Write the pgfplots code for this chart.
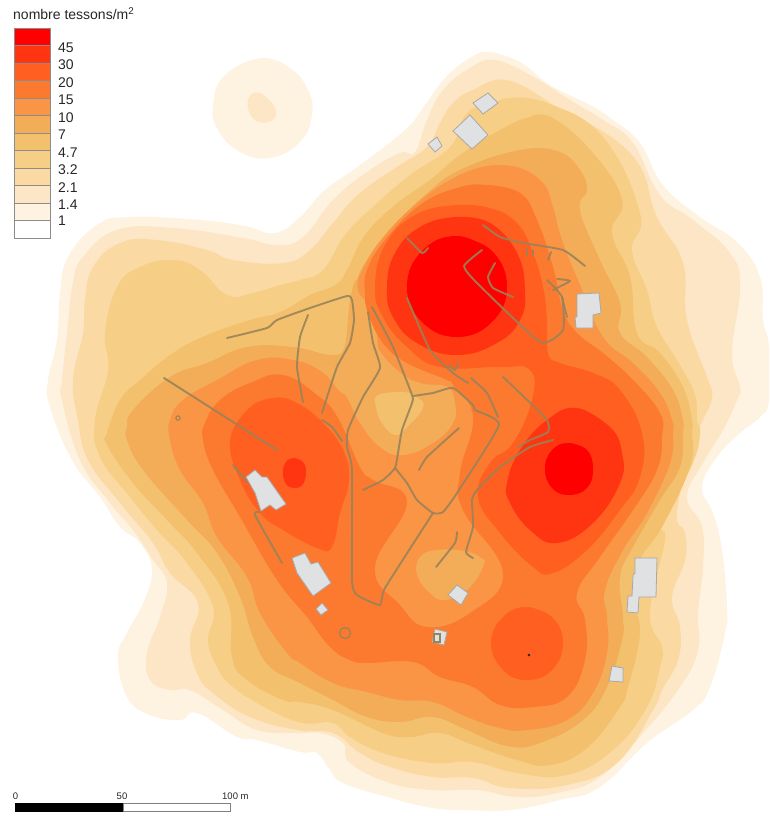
\documentclass[border=0pt]{standalone}
\usepackage{pgfplots}
\pgfplotsset{compat=1.18}
\usepackage{fontspec}
\setmainfont{Liberation Sans}
\definecolor{lva}{HTML}{FEF2E1}
\definecolor{lvb}{HTML}{FDE6C5}
\definecolor{lvc}{HTML}{FAD9A3}
\definecolor{lvd}{HTML}{F7CE85}
\definecolor{lve}{HTML}{F3C16E}
\definecolor{lvf}{HTML}{F3AC58}
\definecolor{lvg}{HTML}{FA9545}
\definecolor{lvh}{HTML}{FC7A30}
\definecolor{lvi}{HTML}{FF5F20}
\definecolor{lvj}{HTML}{FF3511}
\definecolor{lvk}{HTML}{FF0000}
\definecolor{trace}{HTML}{998358}
\definecolor{bati}{HTML}{E0E1E3}
\definecolor{batiedge}{HTML}{A8A8A8}
% filled contour band, coordinates in picture pixels
\newcommand{\zone}[2]{\addplot[fill=#1,draw=none,smooth,tension=0.75] coordinates {#2};}
\newcommand{\trace}[1]{\addplot[trace,opacity=0.9,line width=1.9pt,line join=round,line cap=round,smooth,tension=0.3] coordinates {#1};}
\newcommand{\bati}[1]{\addplot[fill=bati,draw=batiedge,line width=0.8pt] coordinates {#1} -- cycle;}
\newcommand{\key}[3]{\addplot[fill=#1,draw=gray!90,line width=0.8pt] coordinates {(14,#2) (50,#2) (50,#3) (14,#3)} -- cycle;}
\begin{document}
\begin{tikzpicture}
\begin{axis}[
  scale only axis,
  width=769pt,
  height=816pt,
  xmin=0, xmax=769,
  ymin=0, ymax=816,
  y dir=reverse,
  ticks=none,
  axis line style={draw=none},
  clip=true,
  nodes={font=\fontsize{14}{16}\selectfont,inner sep=0pt,text=black!85},
]
% bands, outermost first
\zone{lva}{(490,52)(520,62)(550,85)(590,105)(613,120)(640,143)(663,185)(700,217)(737,242)(760,277)(763,320)(769,347)(769,400)(760,417)(740,433)(717,457)(702,487)(713,513)(722,550)(727,607)(725,633)(710,687)(693,710)(647,743)(600,787)(560,800)(510,810)(467,810)(433,808)(387,797)(343,783)(330,770)(317,753)(300,752)(257,740)(237,737)(197,713)(180,720)(150,715)(127,697)(118,657)(127,633)(143,603)(152,570)(140,543)(120,527)(100,497)(72,460)(50,407)(48,380)(57,340)(60,293)(68,257)(97,225)(130,217)(200,220)(245,226)(275,233)(300,217)(325,190)(360,165)(405,130)(425,105)(445,78)(470,58)(490,52)(520,62)}
\zone{lva}{(262,58)(290,68)(308,90)(312,115)(300,142)(270,158)(240,152)(218,130)(213,105)(225,75)(262,58)(290,68)}
\zone{lvb}{(260,93)(272,103)(276,115)(268,122)(255,120)(248,108)(250,96)(260,93)(272,103)}
\zone{lvb}{(495,60)(530,75)(570,100)(603,120)(633,143)(660,195)(693,220)(730,253)(740,287)(732,353)(740,387)(737,400)(723,430)(703,463)(687,497)(702,527)(703,567)(698,613)(698,650)(680,687)(643,733)(600,777)(557,793)(517,797)(477,790)(433,790)(390,783)(350,763)(343,743)(320,733)(297,733)(257,730)(223,710)(190,690)(170,690)(150,680)(147,653)(160,617)(167,583)(153,560)(133,530)(110,503)(80,460)(62,400)(62,380)(67,333)(73,283)(83,257)(117,230)(173,228)(243,238)(277,245)(303,237)(333,200)(367,172)(400,153)(415,152)(427,120)(443,90)(470,68)(495,60)(530,75)}
\zone{lvc}{(507,80)(550,103)(630,153)(657,217)(683,263)(687,320)(707,377)(712,397)(703,420)(693,443)(677,512)(685,533)(685,560)(672,597)(680,627)(678,660)(662,690)(653,710)(617,763)(567,785)(510,788)(473,778)(433,777)(390,767)(360,753)(333,733)(297,730)(250,717)(213,693)(197,673)(190,640)(198,603)(170,573)(153,543)(120,503)(88,460)(78,420)(73,380)(83,333)(85,300)(93,267)(120,243)(157,240)(207,250)(233,260)(283,263)(310,250)(333,223)(360,193)(400,165)(427,147)(440,123)(453,103)(473,90)(507,80)(550,103)}
\zone{lvd}{(510,98)(547,103)(603,137)(640,213)(632,250)(647,290)(657,327)(680,365)(695,395)(697,420)(700,433)(692,465)(662,523)(665,540)(650,613)(662,647)(660,667)(647,707)(613,750)(567,775)(517,773)(473,762)(433,763)(383,753)(350,737)(333,723)(303,723)(270,710)(233,687)(217,667)(208,640)(213,607)(187,563)(157,530)(130,497)(100,457)(95,420)(108,370)(105,333)(117,287)(140,267)(173,260)(200,270)(227,295)(253,293)(280,285)(300,280)(323,270)(345,235)(375,205)(410,175)(450,147)(467,113)(490,105)(510,98)(547,103)}
\zone{lve}{(530,117)(553,118)(593,153)(622,200)(612,233)(630,277)(637,333)(660,353)(683,387)(692,420)(692,433)(690,467)(662,527)(640,560)(633,597)(640,633)(628,687)(620,707)(587,748)(550,765)(517,760)(473,745)(440,733)(410,737)(383,733)(333,710)(300,702)(283,700)(247,680)(232,657)(228,603)(197,553)(167,520)(133,483)(107,445)(107,433)(120,400)(140,380)(173,353)(207,335)(250,320)(280,312)(310,295)(335,285)(347,270)(365,235)(395,205)(430,180)(460,155)(500,130)(530,117)(553,118)}
\zone{lvf}{(560,152)(580,170)(587,190)(580,210)(600,260)(620,303)(620,333)(647,357)(673,390)(683,420)(683,433)(680,467)(660,500)(633,547)(620,577)(623,617)(622,640)(607,687)(583,720)(540,743)(507,746)(467,730)(433,717)(400,722)(367,717)(333,700)(300,683)(270,667)(253,637)(240,597)(217,553)(187,520)(143,470)(127,440)(127,427)(133,410)(170,377)(207,363)(247,347)(293,347)(333,355)(347,345)(353,320)(353,300)(355,285)(368,258)(395,225)(425,195)(460,170)(520,150)(560,152)(580,170)}
\zone{lvg}{(487,166)(517,167)(543,183)(553,207)(562,240)(580,285)(603,337)(633,363)(660,393)(672,420)(673,433)(670,463)(647,513)(623,550)(605,590)(607,617)(607,653)(593,693)(567,720)(527,730)(500,728)(467,717)(433,702)(400,700)(367,692)(333,683)(300,663)(287,653)(260,613)(247,577)(217,537)(203,503)(180,470)(170,440)(170,420)(183,400)(217,380)(257,360)(293,360)(322,372)(345,395)(375,400)(375,320)(358,290)(365,265)(385,235)(415,205)(450,180)(487,166)(517,167)}
\zone{lvh}{(487,185)(520,193)(537,220)(553,267)(563,310)(577,333)(603,353)(633,380)(660,413)(662,437)(657,470)(633,510)(600,557)(577,593)(585,620)(585,660)(567,697)(533,707)(500,705)(473,687)(440,677)(413,662)(367,663)(350,660)(330,647)(307,617)(277,580)(240,517)(213,470)(203,440)(205,423)(220,400)(250,383)(283,375)(317,395)(338,418)(360,467)(373,480)(407,502)(375,567)(400,605)(427,627)(470,613)(503,573)(463,510)(460,473)(473,417)(453,385)(447,380)(407,363)(383,343)(368,313)(365,293)(367,270)(385,240)(420,205)(457,188)(487,185)(520,193)}
% pale pockets in the centre
\zone{lvf}{(340,383)(350,403)(360,423)(380,447)(403,455)(433,443)(453,423)(455,403)(447,387)(420,383)(397,370)(377,347)(358,313)(357,280)(350,300)(345,345)(335,362)(340,383)(350,403)}
\zone{lve}{(378,395)(403,392)(418,398)(423,408)(407,427)(395,435)(382,423)(376,407)(378,395)(403,392)}
\zone{lvf}{(417,563)(427,552)(457,550)(480,557)(483,567)(467,590)(443,600)(427,590)(418,577)(417,563)(427,552)}
% stronger cores
\zone{lvi}{(457,205)(490,208)(517,223)(533,253)(543,287)(547,320)(548,353)(560,363)(593,373)(620,390)(642,433)(640,477)(620,510)(587,550)(553,573)(533,567)(500,533)(478,497)(490,463)(513,443)(532,400)(530,370)(500,367)(440,367)(407,347)(383,317)(375,287)(385,245)(415,215)(457,205)(490,208)}
\zone{lvi}{(527,607)(552,617)(563,643)(552,670)(527,680)(503,670)(491,643)(503,617)(527,607)(552,617)}
\zone{lvi}{(230,440)(247,410)(273,398)(297,403)(323,423)(343,450)(349,480)(340,513)(332,547)(317,548)(283,530)(260,513)(240,480)(230,440)(247,410)}
\zone{lvj}{(294,458)(303,462)(306,472)(303,484)(295,488)(286,484)(283,472)(286,462)(294,458)(303,462)}
\zone{lvj}{(577,408)(610,427)(622,453)(620,483)(593,523)(557,543)(530,530)(510,503)(507,483)(520,450)(547,420)(577,408)(610,427)}
\zone{lvj}{(457,217)(490,223)(517,253)(525,290)(520,320)(497,343)(457,355)(417,343)(393,317)(387,287)(395,253)(420,227)(457,217)(490,223)}
\zone{lvk}{(569,443)(587,450)(593,469)(587,488)(569,495)(552,488)(545,469)(552,450)(569,443)(587,450)}
\zone{lvk}{(457,236)(492,251)(507,287)(492,322)(457,337)(422,322)(407,287)(422,251)(457,236)(492,251)}
% traces
\trace{(227,338)(267,328)(277,320)(310,308)(347,296)(352,300)(354,320)(350,343)(337,367)(322,413)}
\trace{(308,315)(300,337)(297,367)(303,402)}
\trace{(164,378)(277,450)}
\trace{(322,420)(332,427)(342,441)}
\trace{(368,312)(373,343)(380,368)(363,397)(348,430)(347,447)(352,470)(352,580)(357,595)(380,605)(385,588)(433,513)}
\trace{(372,307)(393,347)(412,395)(412,403)(402,430)(398,453)(395,468)(383,480)(363,490)}
\trace{(395,468)(407,483)(417,500)(433,513)(443,512)(457,493)(499,425)(475,410)(473,405)(453,388)(433,393)(413,396)}
\trace{(419,470)(427,457)(459,428)}
\trace{(471,378)(487,393)(498,417)}
\trace{(503,377)(522,395)(547,420)(548,432)(530,440)(518,447)}
\trace{(553,440)(530,447)(500,467)(477,490)(472,500)(473,527)(466,552)(473,558)}
\trace{(457,532)(455,543)(436,567)}
\trace{(233,465)(247,482)}
\trace{(260,512)(255,515)(282,563)}
\trace{(407,298)(430,350)(453,373)(468,383)}
\trace{(448,365)(455,370)(458,363)}
\trace{(407,238)(422,253)(428,248)}
\trace{(482,250)(464,266)(477,283)(540,342)(563,330)(562,297)(547,280)}
\trace{(495,263)(488,277)(493,288)(513,297)}
\trace{(483,225)(500,237)(523,243)(563,250)(585,266)}
\trace{(527,255)(527,249)}
\trace{(533,255)(533,250)}
\trace{(548,260)(551,252)}
\trace{(553,290)(570,281)(557,279)}
\trace{(562,297)(567,317)}
% buildings
\bati{(473,103)(488,93)(498,103)(483,114)}
\bati{(453,131)(470,115)(488,135)(472,149)}
\bati{(428,144)(437,137)(442,146)(435,152)}
\bati{(577,294)(599,293)(601,313)(593,315)(593,328)(576,328)(575,317)(577,317)}
\bati{(246,477)(255,470)(262,477)(267,477)(286,504)(276,510)(270,505)(261,511)(255,493)}
\bati{(292,558)(305,553)(311,564)(318,562)(331,583)(313,596)(297,573)}
\bati{(316,609)(322,603)(328,610)(321,615)}
\bati{(448,595)(457,585)(468,593)(461,605)}
\bati{(432,642)(435,629)(447,632)(444,645)}
\bati{(635,558)(657,558)(656,597)(639,597)(638,613)(627,612)(628,596)(632,596)(633,575)(635,573)}
\bati{(612,666)(623,668)(623,682)(609,681)}
\addplot[trace,line width=1.2pt] coordinates {(434,634)(440,634)(440,642)(434,642)} -- cycle;
\addplot[only marks,mark=o,mark size=5.5pt,mark options={trace,line width=1.2pt}] coordinates {(345,633)};
\addplot[only marks,mark=o,mark size=2.2pt,mark options={trace,line width=1pt}] coordinates {(178,418)};
\addplot[only marks,mark=*,mark size=1.2pt,mark options={draw=none,fill=trace}] coordinates {(529,655)};
% legend
\key{lvk}{28}{45.5}
\key{lvj}{45.5}{63}
\key{lvi}{63}{80.5}
\key{lvh}{80.5}{98}
\key{lvg}{98}{115.5}
\key{lvf}{115.5}{133}
\key{lve}{133}{150.5}
\key{lvd}{150.5}{168}
\key{lvc}{168}{185.5}
\key{lvb}{185.5}{203}
\key{lva}{203}{220.5}
\key{white}{220.5}{238}
\node[anchor=west] at (axis cs:13,14) {nombre tessons/m\textsuperscript{2}};
\node[anchor=west] at (axis cs:58,47.5) {45};
\node[anchor=west] at (axis cs:58,65) {30};
\node[anchor=west] at (axis cs:58,82.5) {20};
\node[anchor=west] at (axis cs:58,100) {15};
\node[anchor=west] at (axis cs:58,117.5) {10};
\node[anchor=west] at (axis cs:58,135) {7};
\node[anchor=west] at (axis cs:58,152.5) {4.7};
\node[anchor=west] at (axis cs:58,170) {3.2};
\node[anchor=west] at (axis cs:58,187.5) {2.1};
\node[anchor=west] at (axis cs:58,205) {1.4};
\node[anchor=west] at (axis cs:58,220.5) {1};
% scale bar
\addplot[fill=black,draw=black,line width=0.5pt] coordinates {(15,803.5) (123,803.5) (123,811.5) (15,811.5)} -- cycle;
\addplot[fill=white,draw=gray,line width=0.8pt] coordinates {(123,803.5) (230,803.5) (230,811.5) (123,811.5)} -- cycle;
\node[font=\fontsize{9.5}{11}\selectfont] at (axis cs:15.5,796) {0};
\node[font=\fontsize{9.5}{11}\selectfont] at (axis cs:122,796) {50};
\node[font=\fontsize{9.5}{11}\selectfont,anchor=west] at (axis cs:222,796) {100 m};
\end{axis}
\end{tikzpicture}
\end{document}
